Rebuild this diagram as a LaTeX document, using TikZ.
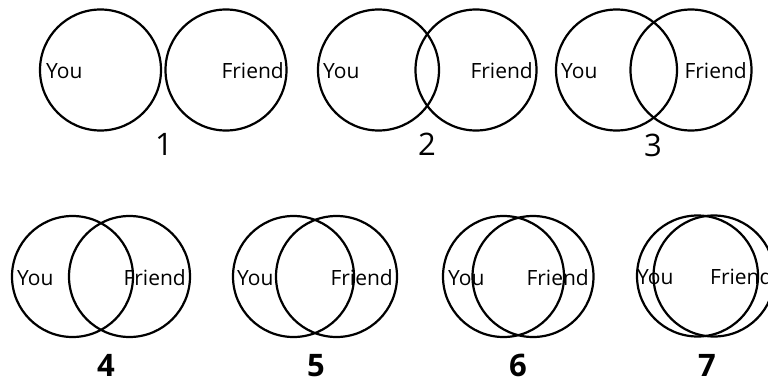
\documentclass[tikz,border=0pt]{standalone}
\usepackage{fontspec}
\setmainfont{Open Sans}
\begin{document}
\begin{tikzpicture}[x=1pt,y=-1pt,
  ring/.style={draw=black,line width=2.2pt,circle,minimum size=121pt,inner sep=0pt},
  lbl/.style={inner sep=0pt,font=\fontsize{21}{25}\selectfont},
  numtop/.style={inner sep=0pt,anchor=base,font=\fontsize{31}{36}\selectfont},
  numbot/.style={inner sep=0pt,anchor=base,font=\fontsize{31}{36}\selectfont\bfseries}]
\useasboundingbox (0,0) rectangle (768,380);
% set 1
\node[ring] (l1) at (100.5,70) {};
\node[ring] (r1) at (226,70) {};
\node[lbl,anchor=base west] (y1) at (46,78) {You};
\node[lbl,anchor=base east] (f1) at (284,78) {Friend};
\node[numtop] (n1) at (164,155) {1};
% set 2
\node[ring] (l2) at (378.5,70) {};
\node[ring] (r2) at (476,70) {};
\node[lbl,anchor=base west] (y2) at (323,78) {You};
\node[lbl,anchor=base east] (f2) at (533,78) {Friend};
\node[numtop] (n2) at (427,155) {2};
% set 3
\node[ring] (l3) at (616.5,70) {};
\node[ring] (r3) at (691,70) {};
\node[lbl,anchor=base west] (y3) at (561,78) {You};
\node[lbl,anchor=base east] (f3) at (747,78) {Friend};
\node[numtop] (n3) at (653,156) {3};
% set 4
\node[ring] (l4) at (72.5,276.5) {};
\node[ring] (r4) at (129.5,276.5) {};
\node[lbl,anchor=base west] (y4) at (17,285) {You};
\node[lbl,anchor=base east] (f4) at (186,285) {Friend};
\node[numbot] (n4) at (106,376) {4};
% set 5
\node[ring] (l5) at (293.5,276.5) {};
\node[ring] (r5) at (336.5,276.5) {};
\node[lbl,anchor=base west] (y5) at (237,285) {You};
\node[lbl,anchor=base east] (f5) at (393,285) {Friend};
\node[numbot] (n5) at (316,376) {5};
% set 6
\node[ring] (l6) at (503.5,276.5) {};
\node[ring] (r6) at (533,276.5) {};
\node[lbl,anchor=base west] (y6) at (448,285) {You};
\node[lbl,anchor=base east] (f6) at (589,285) {Friend};
\node[numbot] (n6) at (518,376) {6};
% set 7
\node[ring] (l7) at (697.5,276) {};
\node[ring] (r7) at (714,276) {};
\node[lbl,anchor=base west] (y7) at (637,284) {You};
\node[lbl,anchor=base west] (f7) at (710,284) {Friend};
\node[numbot] (n7) at (707,376) {7};
\end{tikzpicture}
\end{document}
